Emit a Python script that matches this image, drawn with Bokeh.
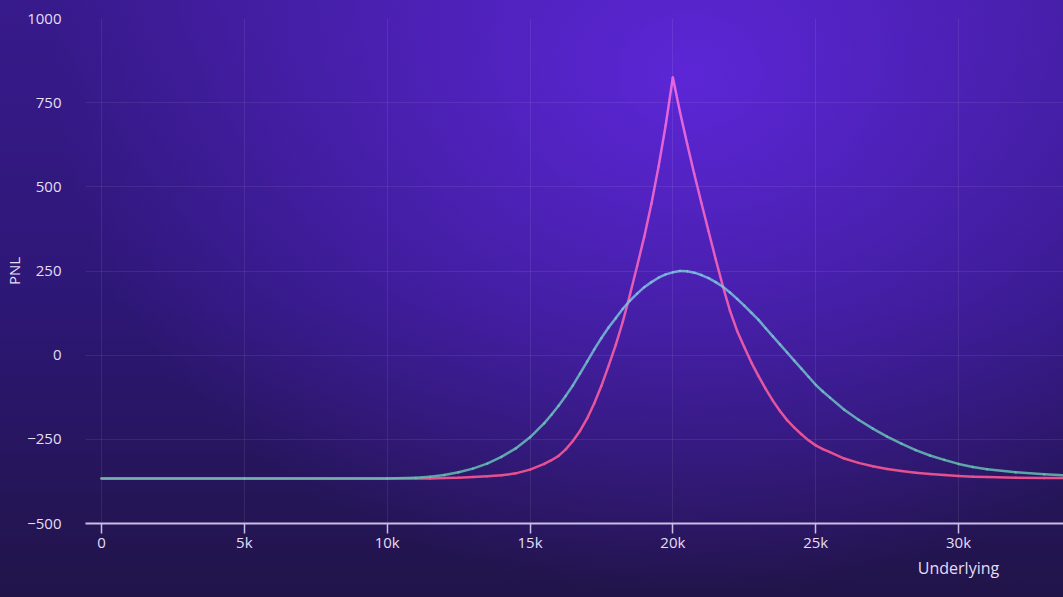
from bokeh.plotting import figure
from bokeh.models import FixedTicker, LinearAxis, Range1d, GlobalInlineStyleSheet, ColumnDataSource
from bokeh.embed import file_html
from bokeh.resources import INLINE

# ---- data ----
underlying = [0, 5000, 10000, 11000, 11500, 12000, 12500, 13000, 13500, 14000, 14500, 15000, 15500, 15750,
              16000, 16250, 16500, 16750,
              17000, 17250, 17500, 17750, 18000, 18250, 18500, 18750, 19000, 19250, 19500, 19750, 20000, 20250,
              20500, 20750, 21000, 21250, 21500, 21750, 22000, 22250, 22500, 22750, 23000, 23250, 23500, 23750,
              24000,
              24250, 24500, 24750, 25000, 25250, 25500, 26000, 26500, 27000, 27500, 28000, 28500, 29000, 29500,
              30000, 30500, 31000, 32000, 33000, 34000]

pnl_expiry = [-366, -366, -366, -366, -366, -365, -364, -362, -360, -357, -351, -340, -323, -312,
              -299, -280, -255, -225,
              -188, -143, -91, -32, 30, 100, 180, 265, 352, 450, 560, 683, 825, 722,
              628, 538, 452, 368, 285, 205, 132, 72, 24, -22, -62, -100, -135, -166,
              -193,
              -215, -235, -253, -268, -279, -288, -307, -320, -330, -338, -344, -349, -353, -356,
              -359, -361, -362, -364, -365, -365]

pnl_today = [-366, -366, -366, -364, -361, -356, -348, -337, -322, -302, -277, -244, -202, -177,
             -150, -121, -90, -55,
             -19, 17, 51, 82, 110, 138, 162, 183, 202, 217, 230, 240, 246, 250,
             249, 245, 238, 229, 217, 203, 186, 167, 147, 126, 105, 80, 56, 32,
             8,
             -16, -40, -64, -88, -108, -126, -162, -192, -218, -242, -263, -282, -298, -311,
             -323, -332, -339, -348, -354, -358]

x_ticks = [0, 5000, 10000, 15000, 20000, 25000, 30000]
x_tick_labels = ["0", "5k", "10k", "15k", "20k", "25k", "30k"]
y_ticks = [-500, -250, 0, 250, 500, 750, 1000]
y_tick_labels = ["\u2212500", "\u2212250", "0", "250", "500", "750", "1000"]
x_title = "Underlying"
x_title_at = 30000
y_title = "PNL"

assert len(underlying) == len(pnl_expiry) == len(pnl_today)

FONT = "Open Sans"
TXT = "#e4def4"


def hex2rgb(h):
    h = h.lstrip("#")
    return tuple(int(h[i:i + 2], 16) for i in (0, 2, 4))


def mix(c1, c2, t):
    a, b = hex2rgb(c1), hex2rgb(c2)
    return "#%02x%02x%02x" % tuple(int(round(a[i] + (b[i] - a[i]) * t)) for i in range(3))


def segments(xv, yv, c_lo, c_hi, lo=-370, hi=830):
    xs, ys, cs = [], [], []
    for i in range(len(xv) - 1):
        xs.append([xv[i], xv[i + 1]])
        ys.append([yv[i], yv[i + 1]])
        t = ((yv[i] + yv[i + 1]) / 2 - lo) / (hi - lo)
        t = min(max(t, 0), 1)
        cs.append(mix(c_lo, c_hi, t))
    return ColumnDataSource(dict(xs=xs, ys=ys, c=cs))


css = GlobalInlineStyleSheet(css="""
html, body { margin: 0; padding: 0; overflow: hidden; }
html {
  min-height: 100%;
  background:
    radial-gradient(ellipse 640px 520px at 690px 75px, rgba(92,38,214,1) 0%, rgba(92,38,214,0.55) 45%, rgba(92,38,214,0) 100%),
    linear-gradient(180deg, #381a8c 0%, #2d1776 50%, #211449 100%);
}
body { background: transparent; }
""")

p = figure(width=1063, height=597, output_backend="svg", toolbar_location=None,
           x_range=Range1d(-560, 33675), y_range=Range1d(-500, 1000),
           min_border_left=85, min_border_right=0, min_border_top=18, min_border_bottom=74)
p.stylesheets = [css]
p.background_fill_alpha = 0
p.border_fill_alpha = 0
p.outline_line_color = None

# grids
for g in (p.xgrid, p.ygrid):
    g.grid_line_color = "#ffffff"
    g.grid_line_alpha = 0.08
    g.grid_line_width = 1
p.xgrid.ticker = FixedTicker(ticks=x_ticks)
p.ygrid.ticker = FixedTicker(ticks=y_ticks)

# x axis
xa = p.xaxis[0]
xa.ticker = FixedTicker(ticks=x_ticks)
xa.major_label_overrides = {t: l for t, l in zip(x_ticks, x_tick_labels)}
xa.axis_line_color = "#c9bde6"
xa.axis_line_width = 2
xa.major_tick_line_color = "#c9bde6"
xa.major_tick_line_width = 1.5
xa.major_tick_in = 0
xa.major_tick_out = 10
xa.minor_tick_line_color = None
xa.major_label_text_color = TXT
xa.major_label_text_font = FONT
xa.major_label_text_font_size = "15px"
xa.major_label_standoff = -2

# x axis title placed under the 30k tick via a second, bare axis
xt = LinearAxis(ticker=FixedTicker(ticks=[x_title_at]),
                major_label_overrides={x_title_at: x_title})
xt.axis_line_color = None
xt.major_tick_line_color = None
xt.minor_tick_line_color = None
xt.major_label_text_color = TXT
xt.major_label_text_font = FONT
xt.major_label_text_font_size = "16px"
xt.major_label_standoff = -4
p.add_layout(xt, "below")

# y axis
ya = p.yaxis[0]
ya.ticker = FixedTicker(ticks=y_ticks)
ya.major_label_overrides = {t: l for t, l in zip(y_ticks, y_tick_labels)}
ya.axis_line_color = None
ya.major_tick_line_color = None
ya.minor_tick_line_color = None
ya.major_label_text_color = TXT
ya.major_label_text_font = FONT
ya.major_label_text_font_size = "15px"
ya.major_label_standoff = 18
ya.axis_label = y_title
ya.axis_label_text_color = TXT
ya.axis_label_text_font = FONT
ya.axis_label_text_font_style = "normal"
ya.axis_label_text_font_size = "15px"
ya.axis_label_standoff = 0

# curves
src_exp = segments(underlying, pnl_expiry, "#e6508c", "#e468e4")
p.multi_line("xs", "ys", source=src_exp, line_color="c", line_width=2.5,
             line_cap="round", line_join="round")
src_today = segments(underlying, pnl_today, "#62c0b0", "#80c0e0", hi=260)
p.multi_line("xs", "ys", source=src_today, line_color="c", line_width=2.5, line_alpha=0.85,
             line_cap="round", line_join="round")

open("out.html", "w").write(file_html(p, INLINE))
